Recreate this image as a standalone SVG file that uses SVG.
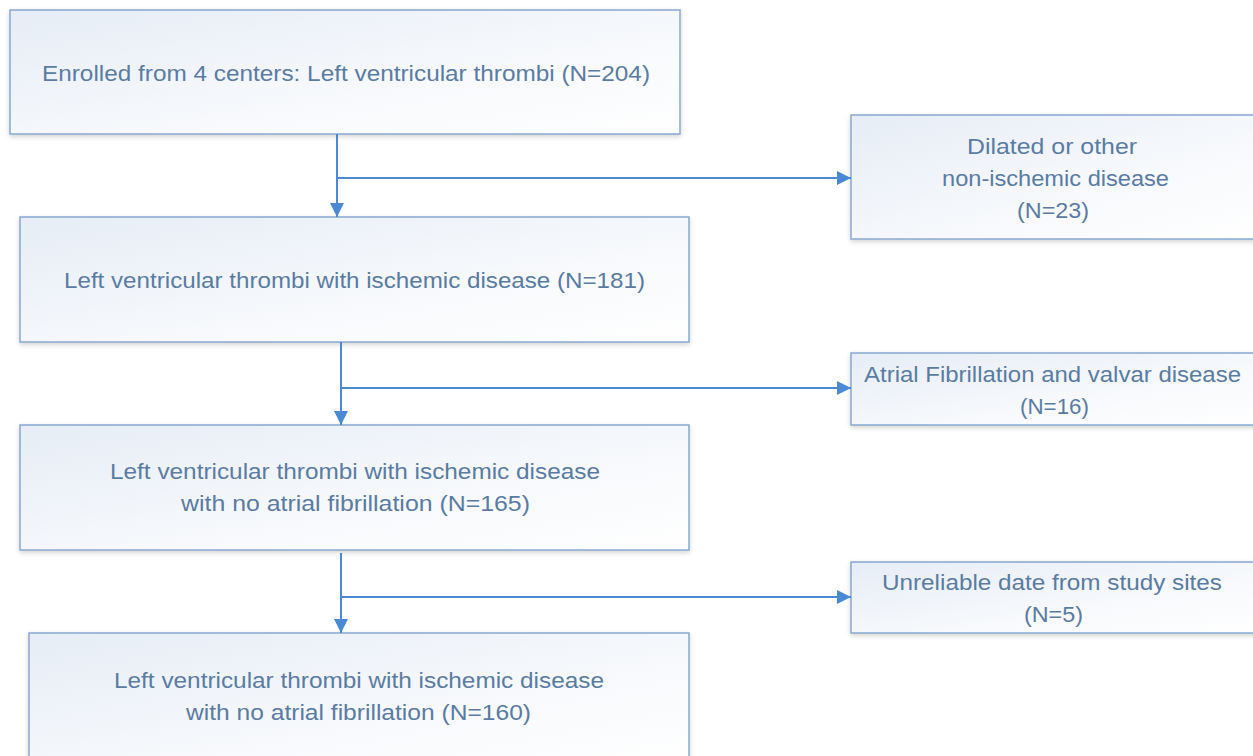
<svg xmlns="http://www.w3.org/2000/svg" width="1253" height="756" viewBox="0 0 1253 756">
<defs>
<linearGradient id="g" x1="0" y1="0" x2="1" y2="1">
<stop offset="0" stop-color="#e6edf6"/>
<stop offset="0.6" stop-color="#f7f9fc"/>
<stop offset="1" stop-color="#ffffff"/>
</linearGradient>
<filter id="sh" x="-5%" y="-10%" width="110%" height="125%">
<feGaussianBlur in="SourceAlpha" stdDeviation="2.5"/>
<feOffset dx="0" dy="2" result="b"/>
<feComponentTransfer><feFuncA type="linear" slope="0.18"/></feComponentTransfer>
<feMerge><feMergeNode/><feMergeNode in="SourceGraphic"/></feMerge>
</filter>
<marker id="ah" viewBox="0 0 14 14" refX="14" refY="7" markerWidth="14" markerHeight="14" markerUnits="userSpaceOnUse" orient="auto">
<path d="M0,0 L14,7 L0,14 z" fill="#4a8ad4"/>
</marker>
</defs>
<style>
.box{fill:url(#g);stroke:#88a8cf;stroke-width:1.5;filter:url(#sh)}
.t{font-family:"Liberation Sans",Arial,sans-serif;font-size:22px;fill:#5a7ca3;text-anchor:middle}
.c{fill:none;stroke:#4a8ad4;stroke-width:2}
</style>
<rect width="1253" height="756" fill="#ffffff"/>
<g id="n1"><rect class="box" x="10" y="10" width="670" height="124"/>
<text class="t" x="346" y="81" textLength="608" lengthAdjust="spacingAndGlyphs">Enrolled from 4 centers: Left ventricular thrombi (N=204)</text></g>
<g id="n2"><rect class="box" x="20" y="217" width="669" height="125"/>
<text class="t" x="354.5" y="288" textLength="581" lengthAdjust="spacingAndGlyphs">Left ventricular thrombi with ischemic disease (N=181)</text></g>
<g id="n3"><rect class="box" x="20" y="425" width="669" height="125"/>
<text class="t" x="355" y="479" textLength="490" lengthAdjust="spacingAndGlyphs">Left ventricular thrombi with ischemic disease</text>
<text class="t" x="355.5" y="511" textLength="349" lengthAdjust="spacingAndGlyphs">with no atrial fibrillation (N=165)</text></g>
<g id="n4"><rect class="box" x="29" y="633" width="660" height="130"/>
<text class="t" x="359" y="688" textLength="490" lengthAdjust="spacingAndGlyphs">Left ventricular thrombi with ischemic disease</text>
<text class="t" x="358.5" y="720" textLength="345" lengthAdjust="spacingAndGlyphs">with no atrial fibrillation (N=160)</text></g>
<g id="e1"><rect class="box" x="851" y="115" width="405" height="124"/>
<text class="t" x="1052" y="154" textLength="170" lengthAdjust="spacingAndGlyphs">Dilated or other</text>
<text class="t" x="1055.5" y="186" textLength="227" lengthAdjust="spacingAndGlyphs">non-ischemic disease</text>
<text class="t" x="1053" y="218" textLength="72" lengthAdjust="spacingAndGlyphs">(N=23)</text></g>
<g id="e2"><rect class="box" x="851" y="353" width="405" height="72"/>
<text class="t" x="1052.5" y="382" textLength="377" lengthAdjust="spacingAndGlyphs">Atrial Fibrillation and valvar disease</text>
<text class="t" x="1054.5" y="414" textLength="69" lengthAdjust="spacingAndGlyphs">(N=16)</text></g>
<g id="e3"><rect class="box" x="851" y="562" width="405" height="71"/>
<text class="t" x="1052" y="590" textLength="340" lengthAdjust="spacingAndGlyphs">Unreliable date from study sites</text>
<text class="t" x="1053.5" y="622" textLength="59" lengthAdjust="spacingAndGlyphs">(N=5)</text></g>
<g id="connectors">
<path class="c" d="M337,134 V217" marker-end="url(#ah)"/>
<path class="c" d="M337,178 H851" marker-end="url(#ah)"/>
<path class="c" d="M341,342 V425" marker-end="url(#ah)"/>
<path class="c" d="M341,388 H851" marker-end="url(#ah)"/>
<path class="c" d="M341,553 V633" marker-end="url(#ah)"/>
<path class="c" d="M341,597 H851" marker-end="url(#ah)"/>
</g>
</svg>
